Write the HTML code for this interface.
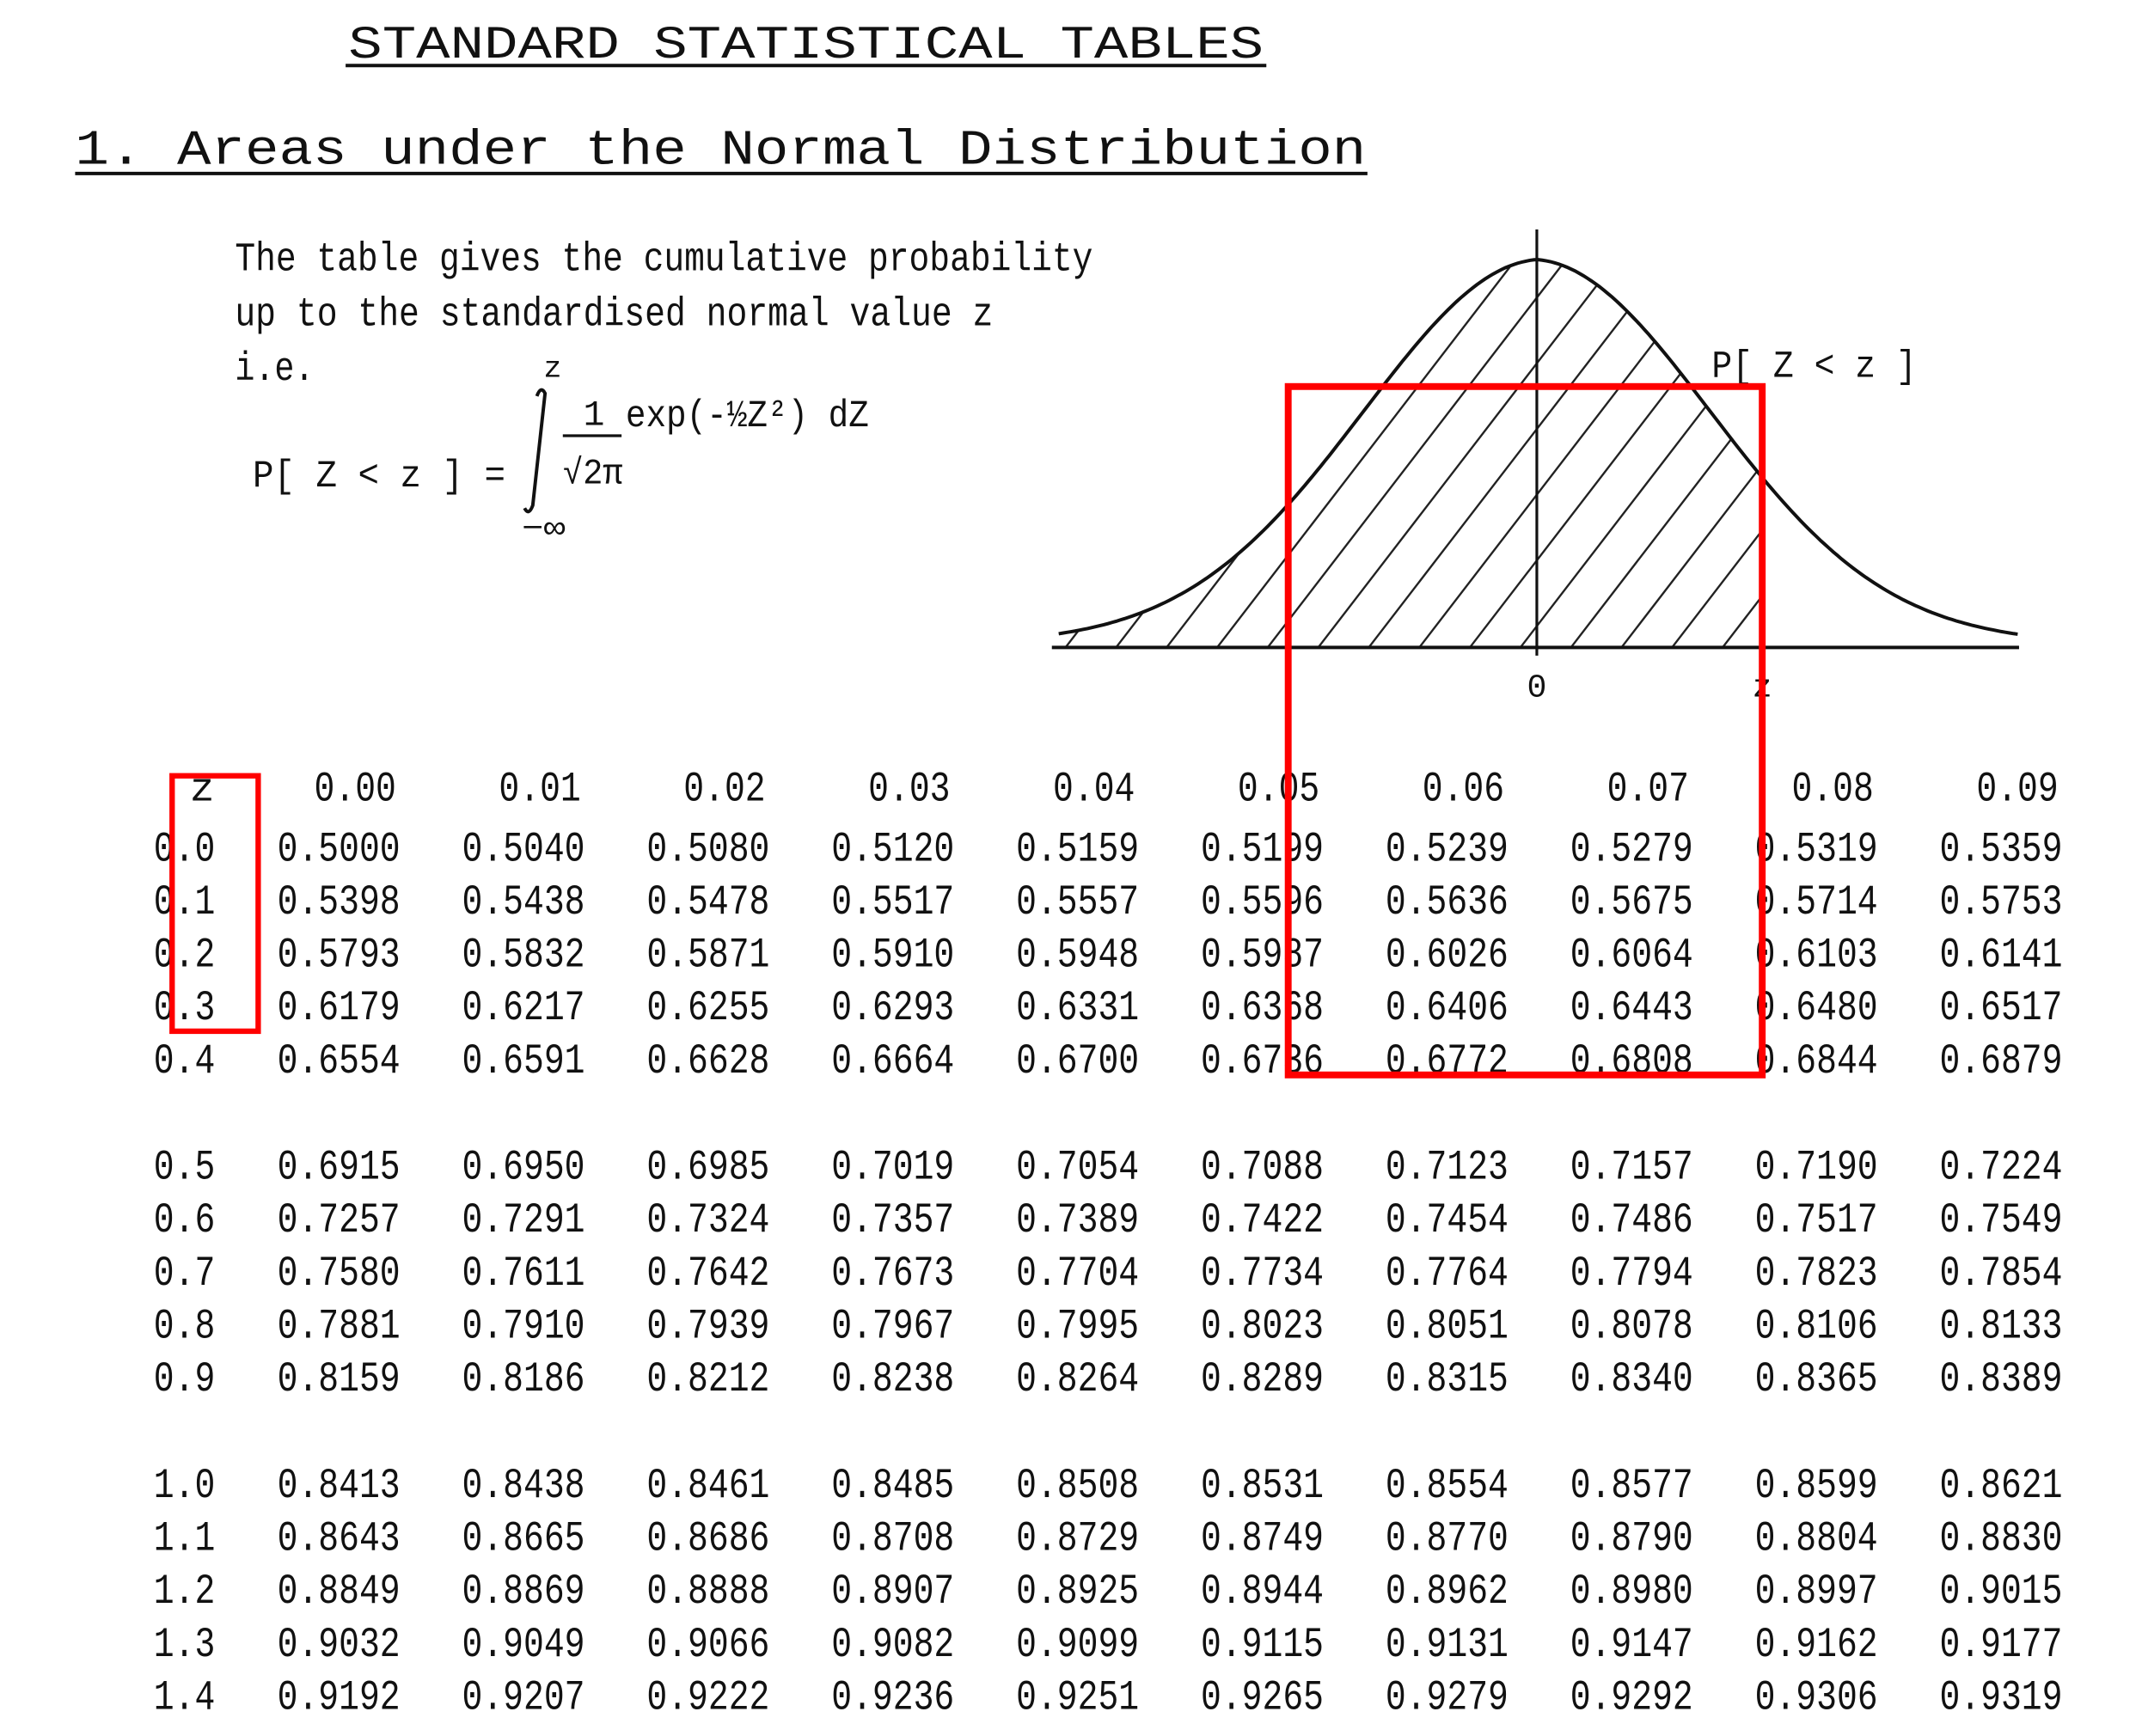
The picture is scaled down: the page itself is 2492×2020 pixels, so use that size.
<!DOCTYPE html>
<html><head><meta charset="utf-8"><style>
html,body{margin:0;padding:0;background:#fff;}
svg{display:block;}
text{font-family:"Liberation Mono","DejaVu Sans Mono",monospace;fill:#111;}
</style></head><body>
<svg id="s" width="2492" height="2020" viewBox="0 0 1568 1271" xmlns="http://www.w3.org/2000/svg">
<rect width="1568" height="1271" fill="#fff"/>
<g>
<text x="255" y="42" font-size="34" textLength="670" lengthAdjust="spacingAndGlyphs">STANDARD STATISTICAL TABLES</text>
<line x1="253" y1="48" x2="927" y2="48" stroke="#111" stroke-width="2.5"/>
</g>
<g>
<text x="55" y="120" font-size="36" textLength="945" lengthAdjust="spacingAndGlyphs">1. Areas under the Normal Distribution</text>
<line x1="55" y1="127" x2="1001" y2="127" stroke="#111" stroke-width="2.5"/>
</g>
<g font-size="30">
<text x="172" y="198" textLength="628" lengthAdjust="spacingAndGlyphs">The table gives the cumulative probability</text>
<text x="172" y="238" textLength="555" lengthAdjust="spacingAndGlyphs">up to the standardised normal value z</text>
<text x="172" y="278" textLength="58" lengthAdjust="spacingAndGlyphs">i.e.</text>
</g>
<g font-size="28">
<text x="185" y="356" textLength="185" lengthAdjust="spacingAndGlyphs">P[ Z &lt; z ] =</text>
<path d="M393 290 Q396 282 399 288 L390 370 Q387 378 384 372" fill="none" stroke="#111" stroke-width="2.5"/>
<text x="398" y="276" font-size="22">z</text>
<text x="382" y="394" font-size="24" textLength="32" lengthAdjust="spacingAndGlyphs">−∞</text>
<text x="427" y="311" font-size="26">1</text>
<line x1="412" y1="319" x2="455" y2="319" stroke="#111" stroke-width="2"/>
<text x="412" y="354" font-size="26" textLength="44" lengthAdjust="spacingAndGlyphs">√2π</text>
<text x="458" y="312" textLength="178" lengthAdjust="spacingAndGlyphs">exp(-½Z²) dZ</text>
</g>
<g id="curve"></g>
<text x="1253" y="276" font-size="28" textLength="150" lengthAdjust="spacingAndGlyphs">P[ Z &lt; z ]</text>
<text x="1125" y="510" font-size="24" text-anchor="middle">0</text>
<text x="1290" y="510" font-size="24" text-anchor="middle">z</text>
<g id="table"></g>
<rect x="943" y="283" width="347" height="504" fill="none" stroke="#f00" stroke-width="5"/>
<rect x="126" y="568" width="63" height="187" fill="none" stroke="#f00" stroke-width="4"/>
</svg>
<script>
const colHeaders=["0.00","0.01","0.02","0.03","0.04","0.05","0.06","0.07","0.08","0.09"];
const zLabels=["0.0","0.1","0.2","0.3","0.4","0.5","0.6","0.7","0.8","0.9","1.0","1.1","1.2","1.3","1.4"];
const probs=[
["0.5000","0.5040","0.5080","0.5120","0.5159","0.5199","0.5239","0.5279","0.5319","0.5359"],
["0.5398","0.5438","0.5478","0.5517","0.5557","0.5596","0.5636","0.5675","0.5714","0.5753"],
["0.5793","0.5832","0.5871","0.5910","0.5948","0.5987","0.6026","0.6064","0.6103","0.6141"],
["0.6179","0.6217","0.6255","0.6293","0.6331","0.6368","0.6406","0.6443","0.6480","0.6517"],
["0.6554","0.6591","0.6628","0.6664","0.6700","0.6736","0.6772","0.6808","0.6844","0.6879"],
["0.6915","0.6950","0.6985","0.7019","0.7054","0.7088","0.7123","0.7157","0.7190","0.7224"],
["0.7257","0.7291","0.7324","0.7357","0.7389","0.7422","0.7454","0.7486","0.7517","0.7549"],
["0.7580","0.7611","0.7642","0.7673","0.7704","0.7734","0.7764","0.7794","0.7823","0.7854"],
["0.7881","0.7910","0.7939","0.7967","0.7995","0.8023","0.8051","0.8078","0.8106","0.8133"],
["0.8159","0.8186","0.8212","0.8238","0.8264","0.8289","0.8315","0.8340","0.8365","0.8389"],
["0.8413","0.8438","0.8461","0.8485","0.8508","0.8531","0.8554","0.8577","0.8599","0.8621"],
["0.8643","0.8665","0.8686","0.8708","0.8729","0.8749","0.8770","0.8790","0.8804","0.8830"],
["0.8849","0.8869","0.8888","0.8907","0.8925","0.8944","0.8962","0.8980","0.8997","0.9015"],
["0.9032","0.9049","0.9066","0.9082","0.9099","0.9115","0.9131","0.9147","0.9162","0.9177"],
["0.9192","0.9207","0.9222","0.9236","0.9251","0.9265","0.9279","0.9292","0.9306","0.9319"]];
const NS="http://www.w3.org/2000/svg";
function mk(tag,attrs,parent){const e=document.createElementNS(NS,tag);for(const k in attrs)e.setAttribute(k,attrs[k]);parent.appendChild(e);return e;}
const colX=i=>248+i*135.2;
const rowY=r=>630+r*38.8+Math.floor(r/5)*39;
const tbl=document.getElementById('table');
let h=mk('text',{x:148,y:586,'font-size':30,'text-anchor':'middle'},tbl);h.textContent='z';


colHeaders.forEach((c,i)=>{const t=mk('text',{x:colX(i)+12,y:586,'font-size':31,'text-anchor':'middle',textLength:60,lengthAdjust:'spacingAndGlyphs'},tbl);t.textContent=c;

});
zLabels.forEach((z,r)=>{const y=rowY(r);
const t=mk('text',{x:135,y:y,'font-size':31,'text-anchor':'middle',textLength:45,lengthAdjust:'spacingAndGlyphs'},tbl);t.textContent=z;


probs[r].forEach((p,i)=>{const c=mk('text',{x:colX(i),y:y,'font-size':31,'text-anchor':'middle',textLength:90,lengthAdjust:'spacingAndGlyphs'},tbl);c.textContent=p;

});});
// curve
const g=document.getElementById('curve');
const cx=1125,base=474,peak=266,sig=128,zx=1290;
const f=x=>base-peak*Math.exp(-0.5*((x-cx)/sig)**2)-18*Math.exp(-Math.abs(x-cx)/220);
let d='';for(let x=775;x<=1478;x+=3)d+=(d?'L':'M')+x+' '+f(x).toFixed(1);
let clip='M775 '+base;for(let x=775;x<=zx;x+=3)clip+='L'+x+' '+f(x).toFixed(1);clip+='L'+zx+' '+base+'Z';
const defs=mk('defs',{},g);const cp=mk('clipPath',{id:'cp'},defs);mk('path',{d:clip},cp);
const hatch=mk('g',{'clip-path':'url(#cp)',stroke:'#222','stroke-width':1.5},g);


for(let x0=780;x0<1650;x0+=37)mk('line',{x1:x0,y1:base,x2:x0+300,y2:base-300*1.3},hatch);
const c=mk('path',{d:d,fill:'none',stroke:'#111','stroke-width':2.5},g);


const bl=mk('line',{x1:770,y1:base,x2:1478,y2:base,stroke:'#111','stroke-width':2.5},g);


const vl=mk('line',{x1:cx,y1:168,x2:cx,y2:480,stroke:'#111','stroke-width':2},g);


const zl=mk('line',{x1:zx,y1:f(zx),x2:zx,y2:base,stroke:'#111','stroke-width':1.5},g);


</script>
</body></html>
